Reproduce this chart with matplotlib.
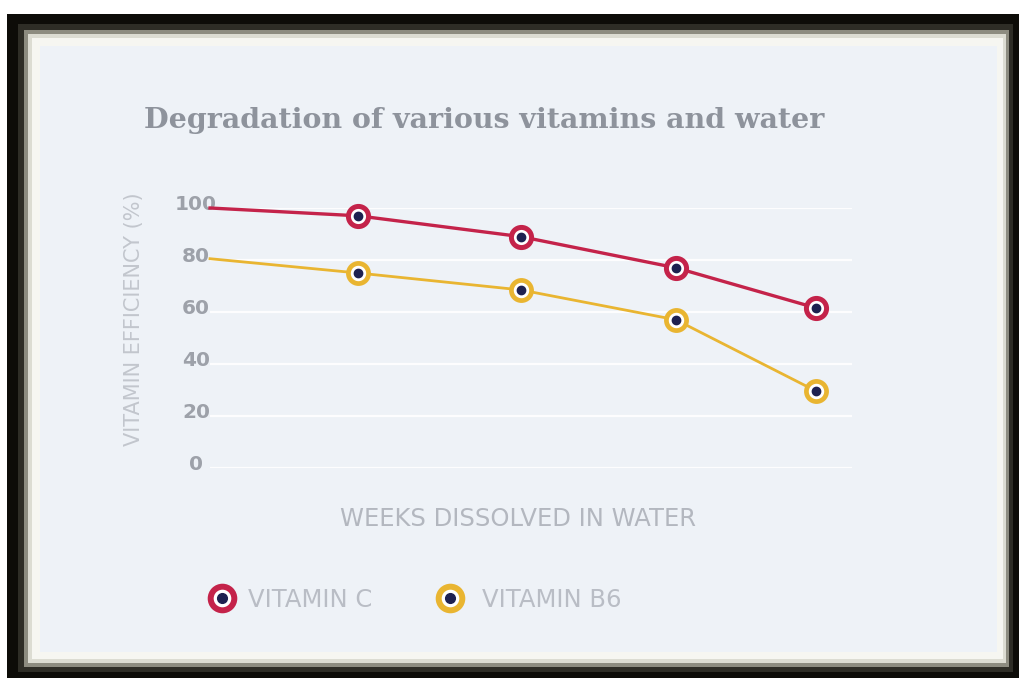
import matplotlib.pyplot as plt
from matplotlib.patches import Rectangle
from matplotlib.lines import Line2D
from matplotlib.legend_handler import HandlerTuple
from matplotlib.transforms import ScaledTranslation

# values (weeks are estimated from point spacing)
weeks = [0, 1, 2.1, 3.15, 4.1]
vitamin_c = [100, 97, 89, 77, 61.5]
vitamin_b6 = [80.5, 75, 68.5, 57, 29.5]
y_ticks = [0, 20, 40, 60, 80, 100]

RED = '#c4234a'
YELLOW = '#e9b531'
NAVY = '#1e2150'
PANEL = '#eef2f7'

W, H = 1019, 678
fig = plt.figure(figsize=(W / 100, H / 100), dpi=100, facecolor='white')


def box(x0, y0, x1, y1, color, z, alpha=1.0):
    # pixel box (top-left origin) -> figure rectangle
    fig.add_artist(Rectangle((x0 / W, 1 - y1 / H), (x1 - x0) / W, (y1 - y0) / H,
                             transform=fig.transFigure, facecolor=color,
                             edgecolor='none', zorder=z, alpha=alpha))


# grungy black frame around a light panel
box(7, 14, W, H, '#0d0c08', -10)
box(18, 24, 1013, 672, '#2e2d26', -9)
box(24, 30, 1009, 667, '#8d8c80', -8)
box(28, 34, 1006, 663, '#dcdcd2', -7)
box(32, 38, 1003, 659, '#f6f6f1', -6)
box(40, 46, 997, 652, PANEL, -5)

ax = fig.add_axes([210 / W, 1 - 468 / H, 642 / W, 260 / H])
ax.set_facecolor('none')
ax.set_xlim(0, 4.34)
ax.set_ylim(0, 100)
ax.set_yticks(y_ticks)
ax.set_xticks([])
ax.grid(axis='y', color='white', lw=1.6, alpha=0.9)
ax.set_axisbelow(True)
for s in ax.spines.values():
    s.set_visible(False)

ax.tick_params(axis='y', length=0, pad=10, labelsize=14.5, labelcolor='#9da1a9')
shift = ScaledTranslation(0, 6 / 100, fig.dpi_scale_trans)
for lbl in ax.get_yticklabels():
    lbl.set_ha('center')
    lbl.set_fontweight('bold')
    lbl.set_transform(lbl.get_transform() + shift)

# lines
ax.plot(weeks, vitamin_c, color=RED, lw=2.4, clip_on=False, zorder=3)
ax.plot(weeks, vitamin_b6, color=YELLOW, lw=2.0, clip_on=False, zorder=3)

# ring markers (skip the first point, it has none)
ax.plot(weeks[1:], vitamin_c[1:], 'o', ms=14.5, mfc='white', mec=RED, mew=3.6,
        zorder=4, clip_on=False)
ax.plot(weeks[1:], vitamin_b6[1:], 'o', ms=14.5, mfc='white', mec=YELLOW, mew=3.4,
        zorder=4, clip_on=False)
ax.plot(weeks[1:], vitamin_c[1:], 'o', ms=6, color=NAVY, zorder=5, clip_on=False)
ax.plot(weeks[1:], vitamin_b6[1:], 'o', ms=6, color=NAVY, zorder=5, clip_on=False)

ax.set_ylabel('VITAMIN EFFICIENCY (%)', fontsize=15, color='#c2c6cd', va='center')
ax.yaxis.set_label_coords(-76 / 642, (468 - 319) / 260)
ax.set_xlabel('WEEKS DISSOLVED IN WATER', fontsize=17.5, color='#b3b7bf', va='center')
ax.xaxis.set_label_coords((518 - 210) / 642, (468 - 519) / 260)

fig.text(484 / W, 1 - 120 / H, 'Degradation of various vitamins and water',
         ha='center', va='center', fontsize=20.5, fontweight='bold',
         family='DejaVu Serif', color='#8e939c')

# legend: two single-entry legends so each sits where the original does
def ring(color):
    outer = Line2D([], [], ls='none', marker='o', ms=17, mfc='white', mec=color, mew=4.3)
    dot = Line2D([], [], ls='none', marker='o', ms=7, color=NAVY)
    return (outer, dot)


leg_kw = dict(loc='center left', bbox_transform=fig.transFigure, frameon=False,
              borderpad=0, borderaxespad=0, handlelength=1.2,
              fontsize=17.5, labelcolor='#b9bdc5',
              handler_map={tuple: HandlerTuple(ndivide=1)})
leg1 = ax.legend([ring(RED)], ['VITAMIN C'], bbox_to_anchor=(207 / W, 1 - 600 / H),
                 handletextpad=0.47, **leg_kw)
ax.add_artist(leg1)
ax.legend([ring(YELLOW)], ['VITAMIN B6'], bbox_to_anchor=(435 / W, 1 - 600 / H),
          handletextpad=0.75, **leg_kw)

fig.savefig('out.png', dpi=100, facecolor=fig.get_facecolor())
